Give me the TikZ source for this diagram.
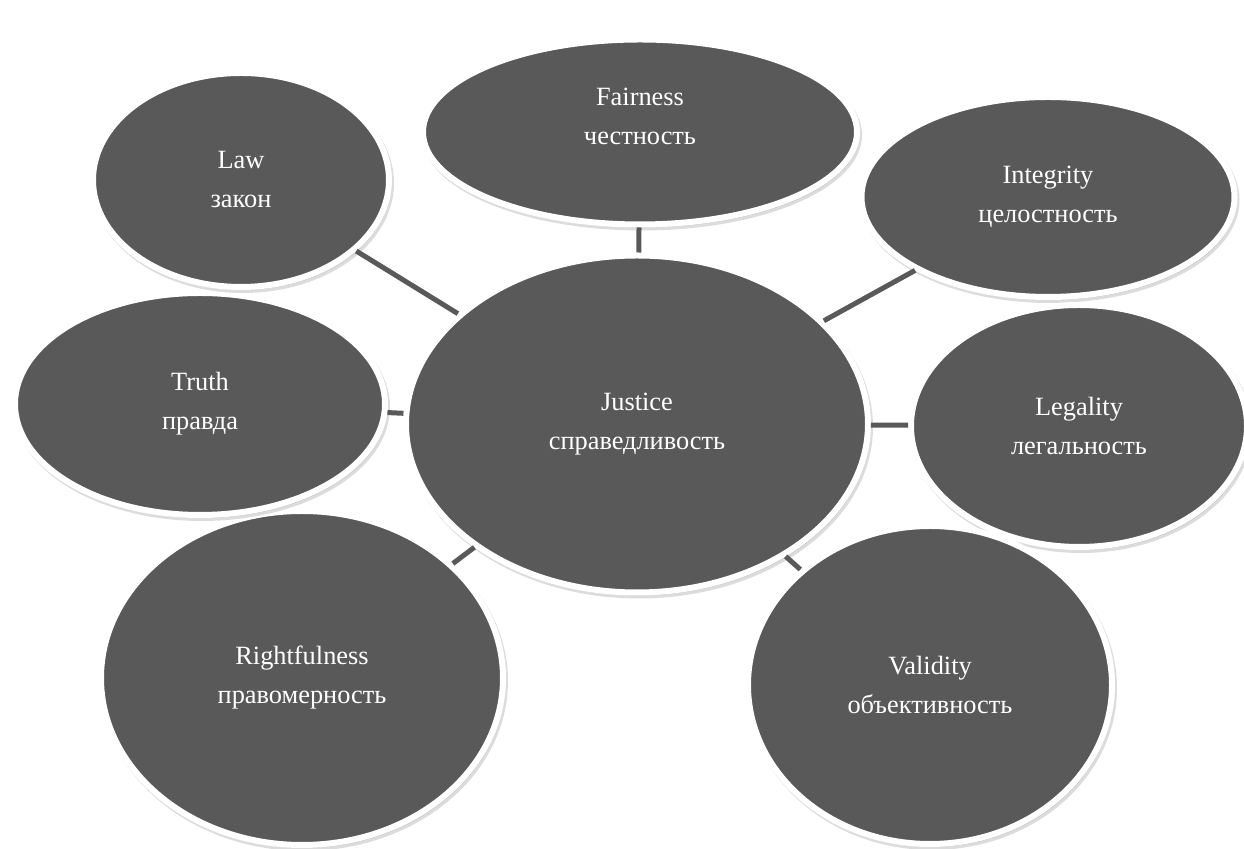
\documentclass[tikz,border=0pt]{standalone}
\usepackage{fontspec}
\setmainfont{Liberation Serif}
\usetikzlibrary{shapes.geometric, shadows}

\definecolor{bubblegray}{HTML}{595959}

\begin{document}
\begin{tikzpicture}[
    bubble/.style={ellipse, fill=bubblegray, draw=white, line width=0.06cm,
        inner sep=0pt, text=white, align=center,
        font=\fontsize{7.5}{11.1}\selectfont,
        drop shadow={fill=black!45, draw=black!45, line width=0.06cm,
            opacity=0.3, shadow xshift=0.02cm, shadow yshift=-0.03cm}},
    link/.style={draw=bubblegray, line width=0.05cm}
  ]
    \useasboundingbox (0,0) rectangle (12.44,8.49);

    % Centre
    \node[bubble, minimum width=4.62cm, minimum height=3.37cm] (justice) at (6.37,4.25) {Justice\\справедливость};

    % Outer bubbles
    \node[bubble, minimum width=4.34cm, minimum height=1.85cm, text depth=0.32cm] (fairness) at (6.40,7.17) {Fairness\\честность};
    \node[bubble, minimum width=3.73cm, minimum height=2.00cm] (integrity) at (10.48,6.52) {Integrity\\целостность};
    \node[bubble, minimum width=3.36cm, minimum height=2.42cm] (legality) at (10.79,4.23) {Legality\\легальность};
    \node[bubble, minimum width=3.64cm, minimum height=3.18cm] (validity) at (9.30,1.64) {Validity\\объективность};
    \node[bubble, minimum width=4.02cm, minimum height=3.34cm] (rightfulness) at (3.02,1.71) {Rightfulness\\правомерность};
    \node[bubble, minimum width=3.70cm, minimum height=2.22cm] (truth) at (2.00,4.45) {Truth\\правда};
    \node[bubble, minimum width=2.96cm, minimum height=2.14cm] (law) at (2.41,6.69) {Law\\закон};

    % Links
    \draw[link] (justice) -- (fairness);
    \draw[link] (justice) -- (integrity);
    \draw[link] (justice) -- (legality);
    \draw[link] (justice) -- (validity);
    \draw[link] (justice) -- (rightfulness);
    \draw[link] (justice) -- (truth);
    \draw[link] (justice) -- (law);
\end{tikzpicture}
\end{document}
